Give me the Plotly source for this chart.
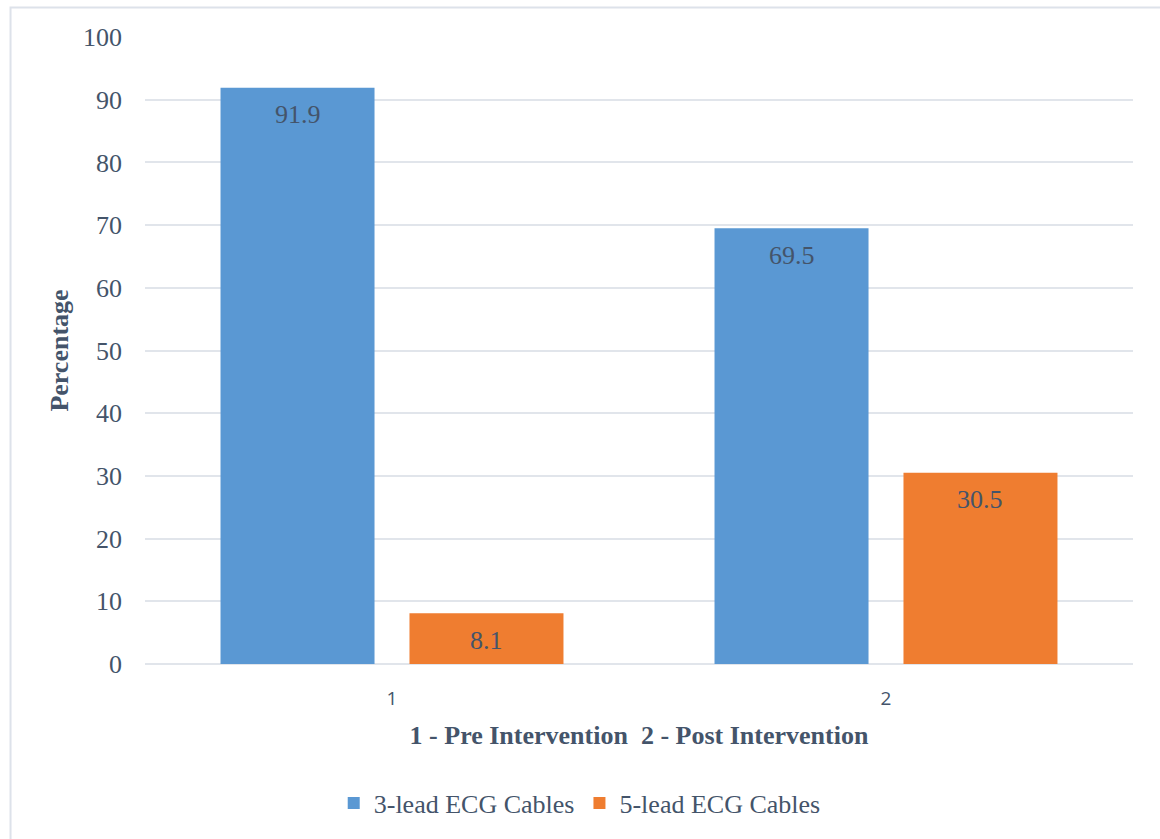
import plotly.graph_objects as go

# Share of ECG cable types used, before and after the intervention
categories = ["1", "2"]
three_lead = [91.9, 69.5]
five_lead = [8.1, 30.5]
series_names = ["3-lead ECG Cables", "5-lead ECG Cables"]
y_ticks = [0, 10, 20, 30, 40, 50, 60, 70, 80, 90, 100]

TEXT = "#44546a"
GRID = "#e1e5eb"
SERIF = "Liberation Serif"

# plot-area geometry used to place value labels over grouped bars
PLOT_W = 1160 - 145 - 27
BARGAP = 0.235
SLOT = PLOT_W / len(categories) * (1 - BARGAP) / 2

fig = go.Figure()
series = [
    (series_names[0], three_lead, "#5a98d3", -SLOT / 2),
    (series_names[1], five_lead, "#ef7d30", SLOT / 2),
]
for name, vals, color, shift in series:
    fig.add_trace(go.Bar(
        x=categories, y=vals, name=name,
        marker=dict(color=color, line=dict(width=0)),
        hoverinfo="x+y+name",
    ))
    # value labels sit just inside the top of each bar (x = category index)
    for idx, v in enumerate(vals):
        fig.add_annotation(
            x=idx, y=v, xref="x", yref="y", text=f"{v:.1f}", showarrow=False,
            xshift=shift, yshift=-27, yanchor="middle", xanchor="center",
            font=dict(family=SERIF, size=26, color=TEXT),
        )

# outer frame of the chart area
fig.add_shape(type="rect", xref="paper", yref="paper",
              x0=-0.1361, x1=1.2, y0=-0.5, y1=1.047,
              line=dict(color="#dde2ea", width=2), fillcolor="rgba(0,0,0,0)",
              layer="below")

fig.update_layout(
    width=1160, height=839,
    margin=dict(l=145, r=27, t=37, b=175),
    paper_bgcolor="white", plot_bgcolor="white",
    barmode="group", bargap=BARGAP, bargroupgap=0.185,
    font=dict(family=SERIF, color=TEXT),
    showlegend=True,
    legend=dict(orientation="h", x=0.44, xanchor="center", y=-0.222, yanchor="middle",
                font=dict(family=SERIF, size=26, color=TEXT), itemwidth=30,
                traceorder="normal"),
    xaxis=dict(
        type="category", range=[-0.5, len(categories) - 0.5],
        showgrid=False, showline=False, zeroline=False,
        tickfont=dict(family="Open Sans", size=19, color=TEXT),
        ticklabelstandoff=21,
        title=dict(text="<b>1 - Pre Intervention  2 - Post Intervention</b>",
                   font=dict(family=SERIF, size=26, color=TEXT), standoff=15),
    ),
    yaxis=dict(
        range=[0, 100], tickvals=y_ticks, showgrid=True, gridcolor=GRID, gridwidth=2,
        zeroline=True, zerolinecolor=GRID, zerolinewidth=2, showline=False,
        tickfont=dict(family=SERIF, size=26, color=TEXT),
        ticklabelstandoff=22,
        title=dict(text="<b>Percentage</b>", font=dict(family=SERIF, size=26, color=TEXT),
                   standoff=6),
    ),
)

fig.write_html("out.html")
